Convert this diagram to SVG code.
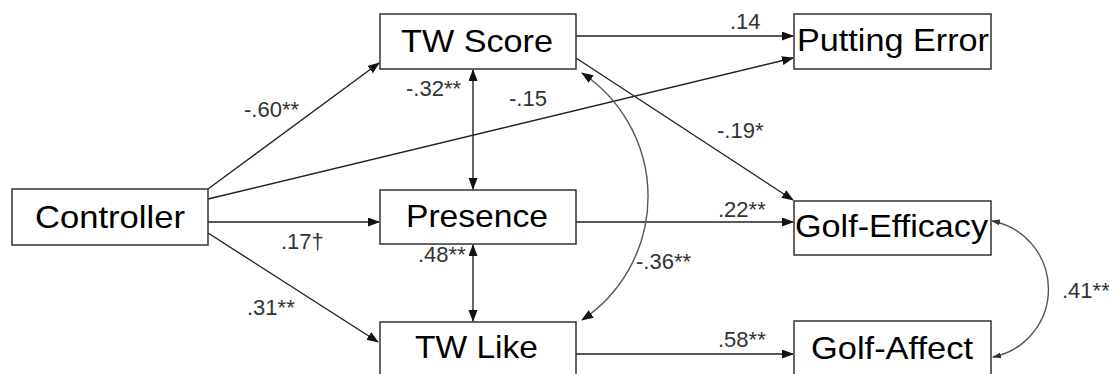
<svg xmlns="http://www.w3.org/2000/svg" width="1109" height="374" viewBox="0 0 1109 374">
<style>
.box{fill:#fff;stroke:#333;stroke-width:1.5}
.nt{font-family:"Liberation Sans",Arial,sans-serif;font-size:32px;fill:#000}
.lb{font-family:"Liberation Sans",Arial,sans-serif;font-size:22px;fill:#333}
.ln{fill:none;stroke:#222;stroke-width:1.4}
.cv{fill:none;stroke:#555;stroke-width:1.4}
</style>
<defs>
<marker id="arr" markerUnits="userSpaceOnUse" markerWidth="12" markerHeight="10" refX="11" refY="4.5" orient="auto-start-reverse" viewBox="0 0 12 10">
<path d="M0,0 L12,4.5 L0,9 z" fill="#111"/>
</marker>
<marker id="arrs" markerUnits="userSpaceOnUse" markerWidth="9" markerHeight="7" refX="8" refY="3" orient="auto-start-reverse" viewBox="0 0 9 7">
<path d="M0,0 L9,3 L0,6 z" fill="#333"/>
</marker>
</defs>
<g id="connectors">
<line class="ln" x1="208" y1="189" x2="379" y2="63" marker-end="url(#arr)"/>
<line class="ln" x1="208" y1="199" x2="793" y2="58" marker-end="url(#arr)"/>
<line class="ln" x1="208" y1="222" x2="379" y2="222" marker-end="url(#arr)"/>
<line class="ln" x1="208" y1="233" x2="378" y2="342" marker-end="url(#arr)"/>
<line class="ln" x1="473" y1="70" x2="473" y2="189" marker-start="url(#arr)" marker-end="url(#arr)"/>
<line class="ln" x1="473" y1="245" x2="473" y2="321" marker-start="url(#arr)" marker-end="url(#arr)"/>
<line class="ln" x1="576" y1="36" x2="793" y2="36" marker-end="url(#arr)"/>
<line class="ln" x1="576" y1="58" x2="793" y2="200" marker-end="url(#arr)"/>
<line class="ln" x1="576" y1="222" x2="793" y2="222" marker-end="url(#arr)"/>
<line class="ln" x1="576" y1="354" x2="793" y2="354" marker-end="url(#arr)"/>
<path class="cv" d="M582,73 A148.5,148.5 0 0 1 582,320" marker-start="url(#arr)" marker-end="url(#arr)"/>
<path class="cv" d="M992,221 A69.3,69.3 0 0 1 993,357" marker-start="url(#arrs)" marker-end="url(#arrs)"/>
<text class="lb" x="244" y="117">-.60**</text>
<text class="lb" x="281" y="249">.17†</text>
<text class="lb" x="247" y="315">.31**</text>
<text class="lb" x="406" y="96">-.32**</text>
<text class="lb" x="509" y="106">-.15</text>
<text class="lb" x="418" y="262">.48**</text>
<text class="lb" x="636" y="269">-.36**</text>
<text class="lb" x="730" y="29">.14</text>
<text class="lb" x="717" y="138">-.19*</text>
<text class="lb" x="718" y="217">.22**</text>
<text class="lb" x="718" y="347">.58**</text>
<text class="lb" x="1062" y="298">.41**</text>
</g>
<g id="controller">
<rect class="box" x="12" y="189" width="196" height="56"/>
<text class="nt" x="35" y="228" textLength="150" lengthAdjust="spacingAndGlyphs">Controller</text>
</g>
<g id="tw-score">
<rect class="box" x="380" y="14" width="196" height="55"/>
<text class="nt" x="401" y="52" textLength="152" lengthAdjust="spacingAndGlyphs">TW Score</text>
</g>
<g id="presence">
<rect class="box" x="380" y="190" width="196" height="54"/>
<text class="nt" x="406" y="227" textLength="142" lengthAdjust="spacingAndGlyphs">Presence</text>
</g>
<g id="tw-like">
<rect class="box" x="380" y="322" width="196" height="55"/>
<text class="nt" x="415" y="358" textLength="123" lengthAdjust="spacingAndGlyphs">TW Like</text>
</g>
<g id="putting-error">
<rect class="box" x="794" y="14" width="197" height="55"/>
<text class="nt" x="797" y="51" textLength="192" lengthAdjust="spacingAndGlyphs">Putting Error</text>
</g>
<g id="golf-efficacy">
<rect class="box" x="794" y="201" width="197" height="54"/>
<text class="nt" x="795" y="237" textLength="193" lengthAdjust="spacingAndGlyphs">Golf-Efficacy</text>
</g>
<g id="golf-affect">
<rect class="box" x="794" y="321" width="197" height="55"/>
<text class="nt" x="811" y="359" textLength="162" lengthAdjust="spacingAndGlyphs">Golf-Affect</text>
</g>
</svg>
